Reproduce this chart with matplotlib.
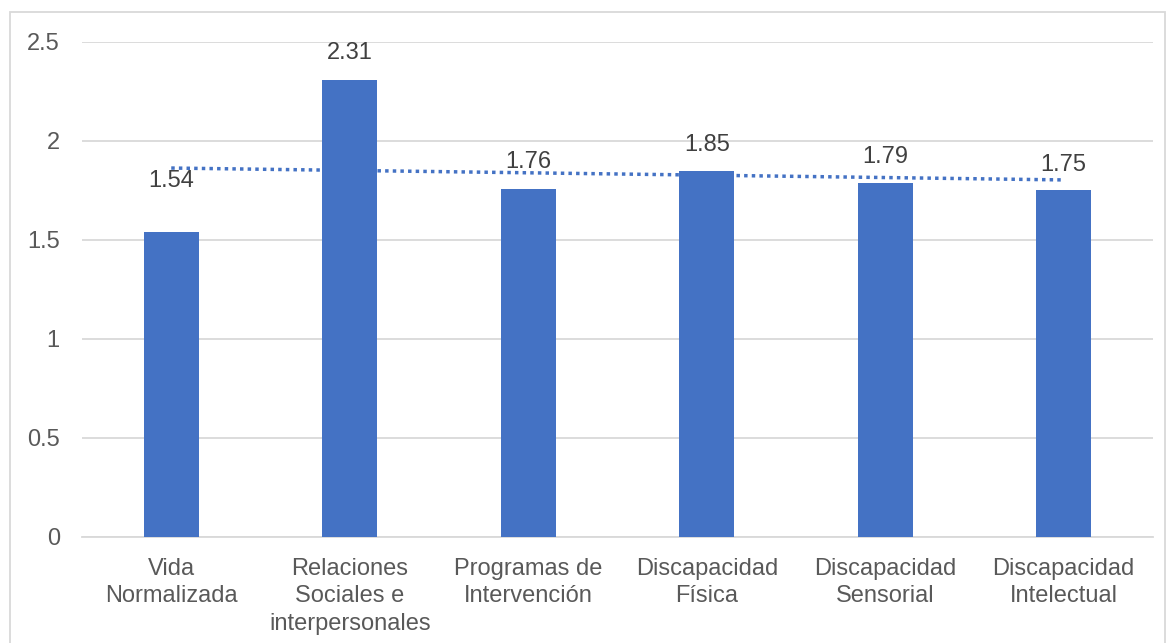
import matplotlib.pyplot as plt
import numpy as np
from matplotlib.patches import Rectangle

plt.rcParams['font.family'] = ['Liberation Sans', 'DejaVu Sans']

categorias = ["Vida\nNormalizada", "Relaciones\nSociales e\ninterpersonales",
              "Programas de\nIntervención", "Discapacidad\nFísica",
              "Discapacidad\nSensorial", "Discapacidad\nIntelectual"]
valores = [1.54, 2.31, 1.76, 1.85, 1.79, 1.75]
y_ticks = [0, 0.5, 1, 1.5, 2, 2.5]

fig = plt.figure(figsize=(11.75, 6.43), dpi=100)
ax = fig.add_axes([82 / 1175, 0.1649, 1071 / 1175, 0.7698])

x = np.arange(len(valores))
ax.bar(x, valores, width=0.31, color='#4472C4', zorder=3)

# la etiqueta de la primera barra esta desplazada hacia arriba en el original
desplaz = [0.26, 0.135, 0.135, 0.13, 0.13, 0.13]
for xi, v, d in zip(x, valores, desplaz):
    ax.text(xi, v + d, f"{v:.2f}", ha='center', va='center',
            fontsize=17, color='#404040', zorder=5)

# linea de tendencia lineal
m, b = np.polyfit(x, valores, 1)
ax.plot(x, m * x + b, linestyle=(0, (1, 1.2)), color='#4472C4',
        linewidth=2.5, zorder=4)

ax.set_xlim(-0.5, 5.5)
ax.set_ylim(0, 2.5)
ax.set_yticks(y_ticks)
ax.set_yticklabels([f"{t:g}" for t in y_ticks])
ax.set_xticks(x)
ax.set_xticklabels(categorias, fontsize=17, color='#595959', linespacing=1.32)
ax.tick_params(axis='y', labelsize=17, labelcolor='#595959', length=0, pad=16)
ax.tick_params(axis='x', length=0, pad=15)
ax.grid(axis='y', color='#d9d9d9', linewidth=1.3, zorder=0)
for s in ['top', 'right', 'left']:
    ax.spines[s].set_visible(False)
ax.spines['bottom'].set_color('#d9d9d9')
ax.spines['bottom'].set_linewidth(1.3)

fig.patches.append(Rectangle((10 / 1175, -0.01), 1155 / 1175, 1 - 12 / 643 + 0.01,
                             transform=fig.transFigure, fill=False,
                             edgecolor='#d9d9d9', linewidth=1.3))

fig.savefig('out.png', dpi=100)
